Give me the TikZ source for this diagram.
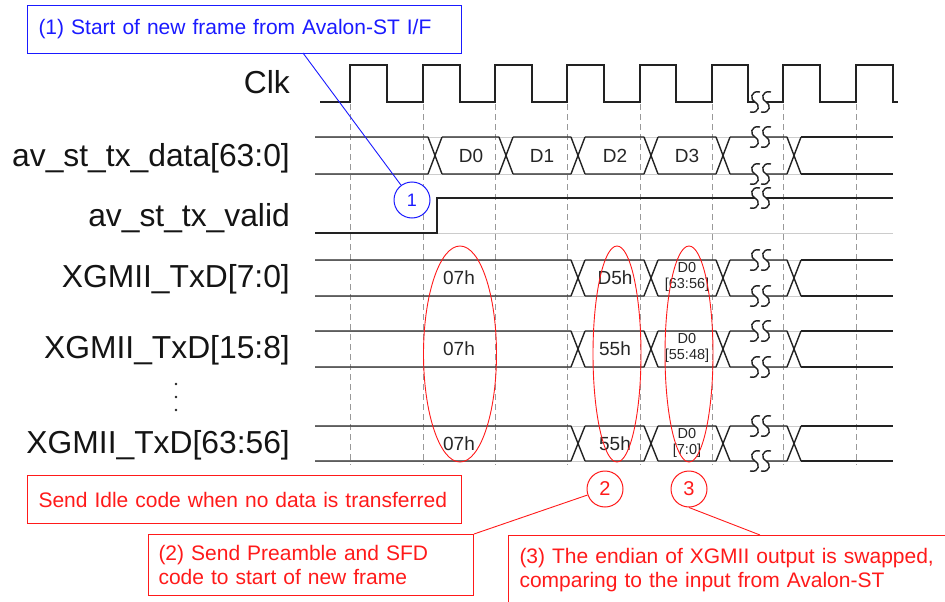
\documentclass[tikz,border=0pt]{standalone}
\usepackage{fontspec}
\setmainfont{Liberation Sans}
\definecolor{wv}{HTML}{222222}
\definecolor{rd}{HTML}{FF1A1A}
\definecolor{bl}{HTML}{1A1AFF}
\newcommand{\wbreak}[1]{%
  \fill[white] (755,#1-2.6) rectangle (766,#1+2.6);
  \draw[brk] (760,#1-10) .. controls (750,#1-12) and (750,#1-2) .. (755,#1) .. controls (760,#1+2) and (760,#1+12) .. (750,#1+10);
  \draw[brk] (771,#1-10) .. controls (761,#1-12) and (761,#1-2) .. (766,#1) .. controls (771,#1+2) and (771,#1+12) .. (761,#1+10);
}
\newcommand{\busrow}[3]{%
  \draw[hid] (315,#1) -- (893,#1) (315,#2) -- (893,#2);
  \foreach \t [remember=\t as \lastt (initially 308)] in {#3} {
    \draw[wave] (\lastt+7,#1) -- (\t-7,#1) (\lastt+7,#2) -- (\t-7,#2)
      (\t-7,#1) -- (\t+7,#2) (\t-7,#2) -- (\t+7,#1);
  }
  \draw[wave] (801,#1) -- (893,#1) (801,#2) -- (893,#2);
}
\begin{document}
\begin{tikzpicture}[x=1pt,y=-1pt,
  wave/.style={line width=1.4pt, draw=wv, line join=miter},
  brk/.style={line width=1.4pt, draw=wv},
  hid/.style={line width=1pt, draw=black!20},
  gridln/.style={line width=0.9pt, draw=black!40, dash pattern=on 6pt off 4pt},
  sig/.style={font=\fontsize{31.8}{32}\selectfont, anchor=base east, inner sep=0pt, text=black!92},
  val/.style={font=\fontsize{19}{19}\selectfont, inner sep=0pt, text=black!85},
  sval/.style={font=\fontsize{14.5}{16}\selectfont, inner sep=0pt, align=center, text=black!85},
  oval/.style={draw=rd, line width=0.9pt},
  bbox/.style={draw=bl, line width=1pt, text=bl, font=\fontsize{21}{25}\selectfont, inner xsep=11pt, inner ysep=0pt, align=left, anchor=north west},
  rbox/.style={draw=rd, line width=1pt, text=rd, fill=white, font=\fontsize{21}{24}\selectfont, inner xsep=11pt, inner ysep=0pt, align=left, anchor=north west},
  bcirc/.style={circle, draw=bl, line width=1pt, text=bl, fill=white, minimum size=36pt, inner sep=0pt, font=\fontsize{18}{18}\selectfont},
  rcirc/.style={circle, draw=rd, line width=1pt, text=rd, fill=white, minimum size=36pt, inner sep=0pt, font=\fontsize{20}{20}\selectfont},
  bline/.style={draw=bl, line width=0.9pt},
  rline/.style={draw=rd, line width=0.9pt}
]
\useasboundingbox (0,0) rectangle (945,602);
\clip (0,0) rectangle (945,602);

% grid
\foreach \x in {350,423,495,567,640,712,783,856}
  \draw[gridln] (\x,104) -- (\x,465);

% signal names
\node[sig] (lclk) at (290,93) {Clk};
\node[sig] (ldata) at (290,166) {av\_st\_tx\_data[63:0]};
\node[sig] (lvalid) at (290,226) {av\_st\_tx\_valid};
\node[sig] (lx1) at (290,287) {XGMII\_TxD[7:0]};
\node[sig] (lx2) at (290,358) {XGMII\_TxD[15:8]};
\node[sig] (lx3) at (290,453) {XGMII\_TxD[63:56]};
\foreach \yy in {384,397,410} \fill[wv] (176,\yy) circle [radius=1.4pt];

% clock
\draw[wave] (320,102) -- (350,102) -- (350,65) -- (387,65) -- (387,102) -- (423,102) -- (423,65) -- (460,65) -- (460,102) -- (495,102) -- (495,65) -- (532,65) -- (532,102) -- (567,102) -- (567,65) -- (604,65) -- (604,102) -- (640,102) -- (640,65) -- (676,65) -- (676,102) -- (712,102) -- (712,65) -- (748,65) -- (748,102) -- (783,102) -- (783,65) -- (820,65) -- (820,102) -- (856,102) -- (856,65) -- (893,65) -- (893,102) -- (898,102);
\wbreak{102}

% data bus
\busrow{137}{174}{435,506,578,651,723,794}
\wbreak{137}\wbreak{174}
\node[val] (d0) at (471,156) {D0};
\node[val] (d1) at (542,156) {D1};
\node[val] (d2) at (615,156) {D2};
\node[val] (d3) at (687,156) {D3};

% valid
\draw[hid] (437,233) -- (893,233);
\draw[wave] (315,233) -- (437,233) -- (437,198) -- (893,198);
\wbreak{198}

% XGMII rows
\busrow{260}{296}{578,651,723,794}
\wbreak{260}\wbreak{296}
\busrow{331}{367}{578,651,723,794}
\wbreak{331}\wbreak{367}
\busrow{426}{461}{578,651,723,794}
\wbreak{426}\wbreak{461}

\node[val] (i1) at (459,278) {07h};
\node[val] (i2) at (459,349) {07h};
\node[val] (i3) at (459,444) {07h};
\node[val] (p1v) at (615,278) {D5h};
\node[val] (p2v) at (615,349) {55h};
\node[val] (p3v) at (615,444) {55h};
\node[sval] (s1) at (687,277) {D0\\{}[63:56]};
\node[sval] (s2) at (687,348) {D0\\{}[55:48]};
\node[sval] (s3) at (687,443) {D0\\{}[7:0]};

% red ellipses
\draw[oval] (460,354) ellipse [x radius=36.5pt, y radius=108pt];
\draw[oval] (617,354) ellipse [x radius=24pt, y radius=108pt];
\draw[oval] (689,354) ellipse [x radius=24pt, y radius=108pt];

% callout 1
\node[bbox, text width=412pt, minimum height=48pt] (n1) at (27,5) {(1) Start of new frame from Avalon-ST I/F};
\node[bcirc] (c1) at (412,200) {1};
\coordinate (q1) at (303,53);
\draw[bline] (q1) -- (c1);

% red callouts
\node[rbox, text width=412pt, minimum height=48pt] (n0) at (27,475) {Send Idle code when no data is transferred};
\node[rcirc] (c2) at (605,489) {2};
\node[rcirc] (c3) at (689,489) {3};
\node[rbox, text width=305pt, inner xsep=10pt, minimum height=61pt] (n2) at (148,534) {(2) Send Preamble and SFD\\code to start of new frame};
\node[rbox, text width=430pt, minimum height=70pt] (n3) at (508,535) {(3) The endian of XGMII output is swapped,\\comparing to the input from Avalon-ST};
\coordinate (q3) at (760,535);
\draw[rline] (n2.north east) -- (c2);
\draw[rline] (c3.south) -- (q3);
\end{tikzpicture}
\end{document}
